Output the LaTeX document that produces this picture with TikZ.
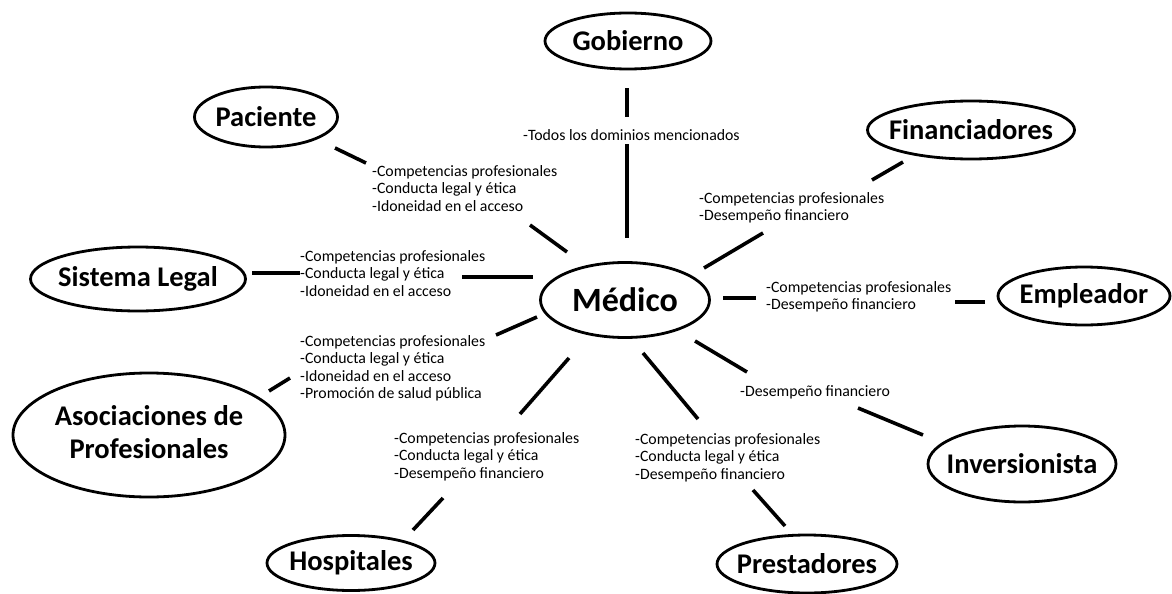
\documentclass[tikz,border=0pt]{standalone}
\usepackage{fontspec}
\setmainfont{Carlito}
\usetikzlibrary{shapes.geometric}
\begin{document}
\begin{tikzpicture}[x=1pt,y=-1pt,
  actor/.style={ellipse, draw, line width=2.8pt, inner sep=0pt,
    font=\fontsize{28.5}{33}\selectfont\bfseries},
  conn/.style={line width=3.6pt},
  lbl/.style={anchor=north west, inner sep=0pt, align=left,
    font=\fontsize{15.8}{17.5}\selectfont}]
\useasboundingbox[fill=white] (0,0) rectangle (1172,594);

% nodes
\node[actor, minimum width=166pt, minimum height=56pt] (gob) at (628,41) {\makebox[0pt]{Gobierno}};
\node[actor, minimum width=143pt, minimum height=60pt] (pac) at (266,117) {\makebox[0pt]{Paciente}};
\node[actor, minimum width=207pt, minimum height=58pt] (fin) at (971,130) {\makebox[0pt]{Financiadores}};
\node[actor, minimum width=215pt, minimum height=64pt] (leg) at (138,279) {\makebox[0pt]{Sistema Legal}};
\node[actor, minimum width=169pt, minimum height=75pt, font=\fontsize{34}{40}\selectfont\bfseries] (med) at (625,300) {\makebox[0pt]{Médico}};
\node[actor, minimum width=172pt, minimum height=58pt] (emp) at (1084,296) {\makebox[0pt]{Empleador}};
\node[actor, minimum width=272pt, minimum height=124pt] (aso) at (149,435) {\makebox[0pt]{\begin{tabular}{@{}c@{}}Asociaciones de\\Profesionales\end{tabular}}};
\node[actor, minimum width=168pt, minimum height=55pt] (hos) at (351,563) {\makebox[0pt]{Hospitales}};
\node[actor, minimum width=180pt, minimum height=58pt] (pre) at (807,564) {\makebox[0pt]{Prestadores}};
\node[actor, minimum width=188pt, minimum height=76pt] (inv) at (1022,464) {\makebox[0pt]{Inversionista}};

% labels
\node[lbl] (lgob) at (523,129) {-Todos los dominios mencionados};
\node[lbl] (lpac) at (372,165) {-Competencias profesionales\\-Conducta legal y ética\\-Idoneidad en el acceso};
\node[lbl] (lfin) at (699,192) {-Competencias profesionales\\-Desempeño financiero};
\node[lbl] (lleg) at (300,250) {-Competencias profesionales\\-Conducta legal y ética\\-Idoneidad en el acceso};
\node[lbl] (lemp) at (766,281) {-Competencias profesionales\\-Desempeño financiero};
\node[lbl] (laso) at (300,335) {-Competencias profesionales\\-Conducta legal y ética\\-Idoneidad en el acceso\\-Promoción de salud pública};
\node[lbl] (linv) at (740,385) {-Desempeño financiero};
\node[lbl] (lpre) at (635,433) {-Competencias profesionales\\-Conducta legal y ética\\-Desempeño financiero};
\node[lbl] (lhos) at (394,432) {-Competencias profesionales\\-Conducta legal y ética\\-Desempeño financiero};

% connector ends
\coordinate (g1) at (627,88);  \coordinate (g2) at (627,117);
\coordinate (g3) at (627,144); \coordinate (g4) at (627,238);
\coordinate (p1) at (335,148); \coordinate (p2) at (366,163);
\coordinate (p3) at (530,225); \coordinate (p4) at (567,252);
\coordinate (f1) at (903,162); \coordinate (f2) at (872,180);
\coordinate (f3) at (763,233); \coordinate (f4) at (704,268);
\coordinate (s1) at (252,273); \coordinate (s2) at (300,273);
\coordinate (s3) at (462,277); \coordinate (s4) at (533,277);
\coordinate (e1) at (985,302); \coordinate (e2) at (955,302);
\coordinate (e3) at (756,298); \coordinate (e4) at (723,298);
\coordinate (a1) at (269,391); \coordinate (a2) at (290,378);
\coordinate (a3) at (496,335); \coordinate (a4) at (537,317);
\coordinate (i1) at (923,435); \coordinate (i2) at (858,408);
\coordinate (i3) at (747,372); \coordinate (i4) at (695,341);
\coordinate (r1) at (785,526); \coordinate (r2) at (753,490);
\coordinate (r3) at (698,419); \coordinate (r4) at (643,353);
\coordinate (h1) at (413,530); \coordinate (h2) at (443,498);
\coordinate (h3) at (520,414); \coordinate (h4) at (569,358);

% connectors
\draw[conn] (g1) -- (g2); \draw[conn] (g3) -- (g4);
\draw[conn] (p1) -- (p2); \draw[conn] (p3) -- (p4);
\draw[conn] (f1) -- (f2); \draw[conn] (f3) -- (f4);
\draw[conn] (s1) -- (s2); \draw[conn] (s3) -- (s4);
\draw[conn] (e1) -- (e2); \draw[conn] (e3) -- (e4);
\draw[conn] (a1) -- (a2); \draw[conn] (a3) -- (a4);
\draw[conn] (i1) -- (i2); \draw[conn] (i3) -- (i4);
\draw[conn] (r1) -- (r2); \draw[conn] (r3) -- (r4);
\draw[conn] (h1) -- (h2); \draw[conn] (h3) -- (h4);
\end{tikzpicture}
\end{document}
